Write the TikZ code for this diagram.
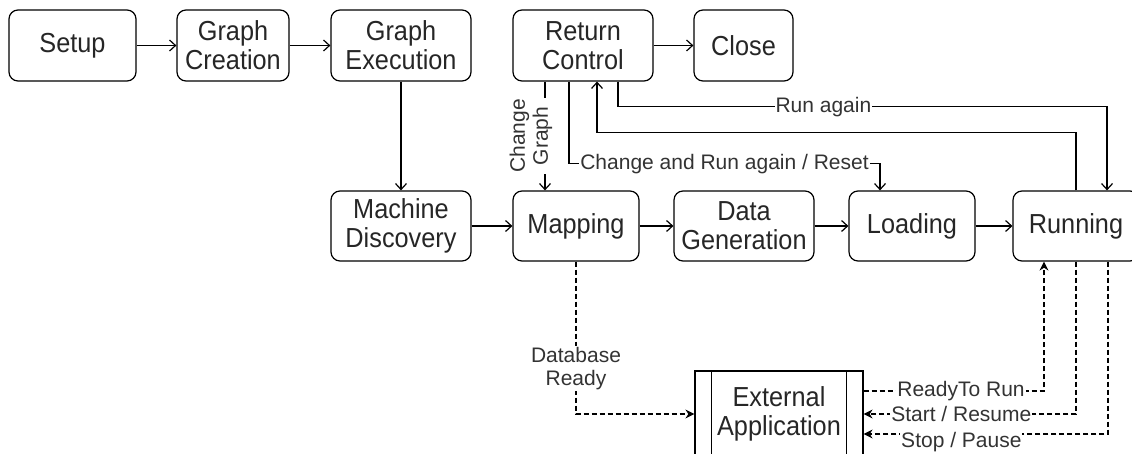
\documentclass[tikz,border=0pt]{standalone}
\usepackage{fontspec}
\setmainfont{Liberation Sans}
\newfontfamily\boxfont[FakeStretch=0.92]{Liberation Sans}
\usetikzlibrary{arrows.meta}

\begin{document}
\begin{tikzpicture}[x=1pt, y=-1pt,
    box/.style={draw, rounded corners=9pt, line width=1.2pt, align=center, inner sep=0pt, text=black!85, font=\boxfont\fontsize{27.5}{29}\selectfont},
    lbl/.style={fill=white, inner sep=1pt, align=center, text=black!80, font=\fontsize{21}{23}\selectfont},
    flow/.style={line width=1.2pt, -{Straight Barb[length=6pt,width=11pt]}},
    sig/.style={line width=1.2pt, dash pattern=on 5pt off 3pt, -{Stealth[length=9pt,width=9pt]}}]
    \useasboundingbox (0,0) rectangle (1132,454);
    \clip (0,0) rectangle (1132,454);

    \node[box, minimum width=127pt, minimum height=71pt] (setup) at (72.5,45.5) {Setup};
    \node[box, minimum width=112pt, minimum height=71pt] (create) at (233,45.5) {Graph\\Creation};
    \node[box, minimum width=140pt, minimum height=71pt] (exec) at (401,45.5) {Graph\\Execution};
    \node[box, minimum width=140pt, minimum height=71pt] (ret) at (583,45.5) {Return\\Control};
    \node[box, minimum width=99pt, minimum height=71pt] (close) at (743.5,45.5) {Close};

    \node[box, minimum width=140pt, minimum height=70pt] (disc) at (401,226) {Machine\\Discovery};
    \node[box, minimum width=126pt, minimum height=70pt] (map) at (576,226) {Mapping};
    \node[box, minimum width=140pt, minimum height=70pt] (gen) at (744,226) {Data\\Generation};
    \node[box, minimum width=126pt, minimum height=70pt] (load) at (912,226) {Loading};
    \node[box, minimum width=126pt, minimum height=70pt] (run) at (1076,226) {Running};

    \node[box, rounded corners=0pt, minimum width=168pt, minimum height=86pt] (ext) at (779,414) {External\\Application};
    \draw[line width=1.2pt] ([xshift=17pt]ext.north west) -- ([xshift=17pt]ext.south west);
    \draw[line width=1.2pt] ([xshift=-17pt]ext.north east) -- ([xshift=-17pt]ext.south east);

    \draw[flow] (setup) -- (create);
    \draw[flow] (create) -- (exec);
    \draw[flow] (exec) -- (disc);
    \draw[flow] (disc) -- (map);
    \draw[flow] (map) -- (gen);
    \draw[flow] (gen) -- (load);
    \draw[flow] (load) -- (run);
    \draw[flow] (ret) -- (close);

    \draw[flow] ([xshift=-38pt]ret.south) -- ([xshift=-31pt]map.north) node[lbl, midway, xshift=-14pt, rotate=90] {Change\\Graph};
    \draw[flow] ([xshift=-14pt]ret.south) -- ++(0,82) -| ([xshift=-32pt]load.north) node[lbl, pos=0.25] {Change and Run again / Reset};
    \draw[flow] ([xshift=35pt]ret.south) -- ++(0,25) -| ([xshift=31pt]run.north) node[lbl, pos=0.21] {Run again};
    \draw[flow] (run.north) -- ++(0,-58) -| ([xshift=14pt]ret.south);

    \draw[sig] (map.south) |- (ext.west) node[lbl, pos=0.35] {Database\\Ready};
    \draw[sig] ([yshift=23pt]ext.east) -| ([xshift=-32pt]run.south) node[lbl, pos=0.27] {ReadyTo Run};
    \draw[sig] (run.south) |- (ext.east) node[lbl, pos=0.77] {Start / Resume};
    \draw[sig] ([xshift=32pt]run.south) |- ([yshift=-20pt]ext.east) node[lbl, pos=0.8, yshift=-8pt] {Stop / Pause};
\end{tikzpicture}
\end{document}
